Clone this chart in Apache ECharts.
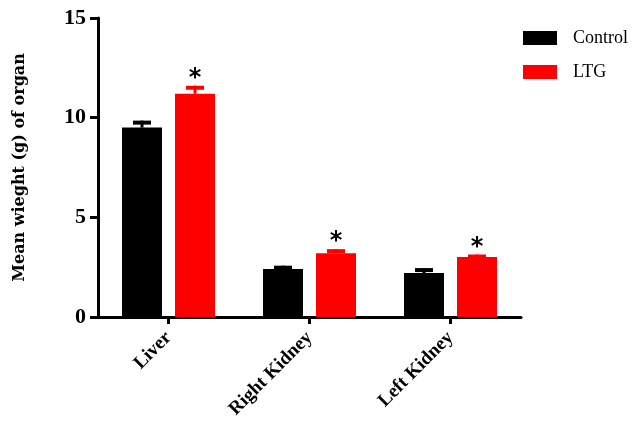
<!DOCTYPE html>
<html>
<head>
<meta charset="utf-8">
<script src="https://cdn.jsdelivr.net/npm/echarts@6/dist/echarts.min.js"></script>
<style>
  html, body { margin: 0; padding: 0; background: #fff; }
  #chart { width: 633px; height: 421px; }
</style>
</head>
<body>
<div id="chart"></div>
<script>
// Organ weights (mean and SEM, grams)
const categories = ['Liver', 'Right Kidney', 'Left Kidney'];
const controlMean = [9.5, 2.4, 2.2];
const controlErr = [0.35, 0.17, 0.25];
const ltgMean = [11.2, 3.2, 3.0];
const ltgErr = [0.4, 0.2, 0.13];
const ltgSignificant = [true, true, true];
const yMin = 0, yMax = 15, yStep = 5;

const SERIF = "'Liberation Serif', 'Times New Roman', serif";
const BAR_W = 40;
const BAR_GAP_PX = 13;
const OFFSET = (BAR_W + BAR_GAP_PX) / 2;

function errorSeries(name, means, errs, color, dir, sig) {
  return {
    type: 'custom',
    name: name + ' error',
    silent: true,
    z: 3,
    encode: { x: 0, y: 1 },
    data: means.map((m, i) => [i, m, errs[i], sig ? (sig[i] ? 1 : 0) : 0]),
    renderItem: function (params, api) {
      const i = api.value(0), m = api.value(1), e = api.value(2), s = api.value(3);
      const base = api.coord([i, m]);
      const top = api.coord([i, m + e]);
      const x = base[0] + dir * OFFSET;
      const children = [
        { type: 'rect', shape: { x: x - 1.5, y: top[1], width: 3, height: base[1] - top[1] }, style: { fill: color } },
        { type: 'rect', shape: { x: x - 9, y: top[1], width: 18, height: 4 }, style: { fill: color } }
      ];
      if (s) {
        // significance marker above the error cap
        children.push({
          type: 'text',
          style: {
            x: x, y: top[1] + 5, text: '*',
            fill: '#000', font: "bold 24px 'DejaVu Sans', sans-serif",
            align: 'center', verticalAlign: 'bottom'
          }
        });
      }
      return { type: 'group', children: children };
    }
  };
}

const chart = echarts.init(document.getElementById('chart'), null, { renderer: 'canvas' });
chart.setOption({
  animation: false,
  backgroundColor: '#fff',
  grid: { left: 98, right: 112, top: 18, bottom: 103, containLabel: false },
  legend: {
    orient: 'vertical',
    left: 523,
    top: 29,
    padding: 0,
    itemWidth: 34,
    itemHeight: 14,
    itemGap: 16,
    icon: 'rect',
    data: ['Control', 'LTG'],
    textStyle: { fontFamily: SERIF, fontSize: 18, color: '#000', padding: [0, 0, 0, 11] }
  },
  xAxis: {
    type: 'category',
    data: categories,
    axisLine: { show: true, lineStyle: { color: '#000', width: 3 } },
    axisTick: { show: true, alignWithLabel: true, length: 7, lineStyle: { color: '#000', width: 3 } },
    axisLabel: { rotate: 45, margin: 18, fontFamily: SERIF, fontWeight: 'bold', fontSize: 19, color: '#000', interval: 0 },
    splitLine: { show: false }
  },
  yAxis: {
    type: 'value',
    min: yMin, max: yMax, interval: yStep,
    name: 'Mean wieght (g) of organ',
    nameLocation: 'middle',
    nameGap: 70,
    nameRotate: 90,
    nameTextStyle: { fontFamily: "'DejaVu Serif', serif", fontWeight: 'bold', fontSize: 16, color: '#000' },
    axisLine: { show: true, lineStyle: { color: '#000', width: 3 } },
    axisTick: { show: true, length: 8, lineStyle: { color: '#000', width: 3 } },
    axisLabel: { margin: 12, fontFamily: SERIF, fontWeight: 'bold', fontSize: 22, color: '#000' },
    splitLine: { show: false }
  },
  series: [
    { type: 'bar', name: 'Control', data: controlMean, barWidth: BAR_W, barGap: (BAR_GAP_PX / BAR_W * 100) + '%', itemStyle: { color: '#000' }, z: 2 },
    { type: 'bar', name: 'LTG', data: ltgMean, barWidth: BAR_W, itemStyle: { color: '#ff0000' }, z: 2 },
    errorSeries('Control', controlMean, controlErr, '#000', -1, null),
    errorSeries('LTG', ltgMean, ltgErr, '#ff0000', 1, ltgSignificant)
  ]
});
</script>
</body>
</html>
